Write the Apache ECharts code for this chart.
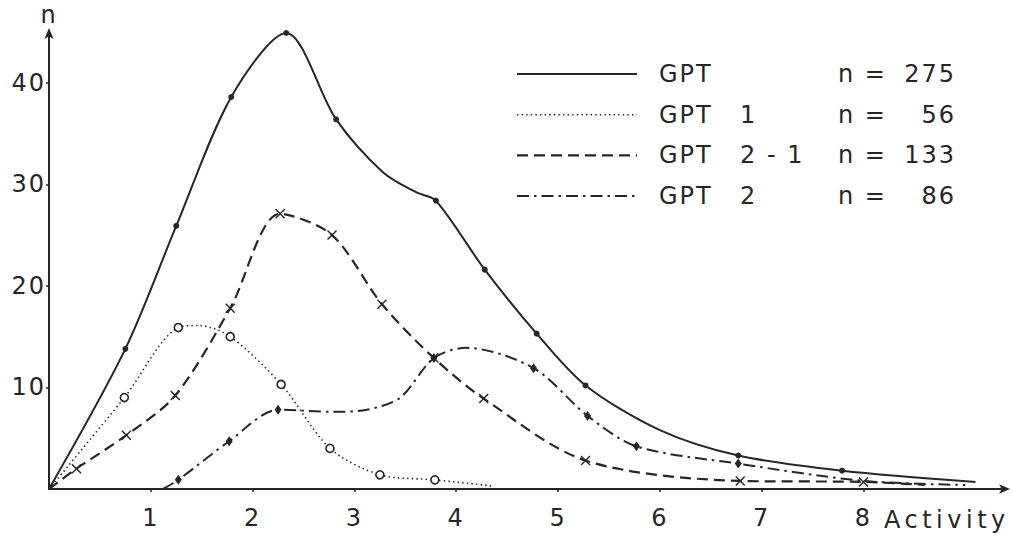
<!DOCTYPE html>
<html>
<head>
<meta charset="utf-8">
<script src="https://cdn.jsdelivr.net/npm/echarts@6/dist/echarts.min.js"></script>
<style>
  html, body { margin: 0; padding: 0; background: #ffffff; }
  #chart { width: 1012px; height: 541px; }
  #chart svg text { letter-spacing: 2px; }
  #chart svg text[style*="Verdana"], #chart svg text[font-family*="Verdana"] { letter-spacing: 4.5px; }
</style>
</head>
<body>
<div id="chart"></div>
<script>
// Axis ticks
const xTicks = [1, 2, 3, 4, 5, 6, 7, 8];
const yTicks = [10, 20, 30, 40];

// Series labels and group sizes
const seriesNames = ['GPT', 'GPT 1', 'GPT 2 - 1', 'GPT 2'];
const groupSizes = [275, 56, 133, 86];

const gptMarked = [[0.75, 13.8], [1.25, 25.9], [1.79, 38.6], [2.33, 44.9], [2.82, 36.4], [3.80, 28.4],
                   [4.28, 21.6], [4.79, 15.3], [5.27, 10.2], [6.77, 3.3], [7.79, 1.8]];
const gptTrace = [[0, 0], [3.28, 31.2], [3.61, 29.2], [6.0, 5.8], [9.1, 0.7]];

// GPT 1: circle markers
const gpt1Marked = [[0.74, 9.0], [1.27, 15.9], [1.78, 15.0], [2.28, 10.3], [2.76, 4.0], [3.25, 1.4], [3.79, 0.9]];
const gpt1Trace = [[0, 0], [1.47, 16.1], [4.35, 0.3]];

// GPT 2 - 1: cross markers
const gpt21Marked = [[0.27, 2.0], [0.76, 5.3], [1.24, 9.2], [1.78, 17.8], [2.27, 27.1], [2.78, 25.0],
                     [3.27, 18.2], [3.78, 12.9], [4.27, 8.9], [5.27, 2.8], [6.79, 0.8], [8.0, 0.7]];
const gpt21Trace = [[0, 0], [8.6, 0.4]];

// GPT 2: diamond markers
const gpt2Marked = [[1.27, 0.9], [1.77, 4.7], [2.25, 7.8], [3.78, 12.9], [4.76, 11.9], [5.29, 7.2],
                    [5.77, 4.2], [6.77, 2.5]];
const gpt2Trace = [[1.12, 0], [2.79, 7.6], [3.12, 7.8], [3.45, 9.0], [4.1, 13.9], [8.0, 0.8], [9.0, 0.4]];

const INK = '#262626';
const FONT = 'DejaVu Sans';

// merge marked and unmarked points into one x-sorted polyline
function buildData(marked, trace) {
  const pts = marked.map(p => ({ value: p, marked: true }))
    .concat(trace.map(p => ({ value: p, marked: false })))
    .sort((a, b) => a.value[0] - b.value[0]);
  return pts.map(p => p.marked ? { value: p.value } : { value: p.value, symbol: 'none' });
}

const crossPath = 'path://M0,1L1,0L5,4L9,0L10,1L6,5L10,9L9,10L5,6L1,10L0,9L4,5Z';

const lineDefs = [
  { marked: gptMarked, trace: gptTrace, dash: 'solid', width: 2,
    symbol: 'circle', size: 6, item: { color: INK } },
  { marked: gpt1Marked, trace: gpt1Trace, dash: [1.4, 3.2], width: 1.6,
    symbol: 'circle', size: 8, item: { color: '#ffffff', borderColor: INK, borderWidth: 1.6 } },
  { marked: gpt21Marked, trace: gpt21Trace, dash: [11, 6], width: 2.2,
    symbol: crossPath, size: 10, item: { color: INK } },
  { marked: gpt2Marked, trace: gpt2Trace, dash: [12, 5, 2.5, 5], width: 2,
    symbol: 'diamond', size: [7, 10], item: { color: INK } }
];

const series = lineDefs.map((d, i) => ({
  name: seriesNames[i],
  type: 'line',
  smooth: 0.3,
  data: buildData(d.marked, d.trace),
  symbol: d.symbol,
  symbolSize: d.size,
  itemStyle: d.item,
  lineStyle: { color: INK, width: d.width, type: d.dash, cap: 'butt' },
  z: 3 + i,
  animation: false
}));

// legend block: line sample, name, and group size in columns
const legendTop = 74, legendStep = 40.7;
const legendGraphics = [];
seriesNames.forEach((name, i) => {
  const y = legendTop + i * legendStep;
  const d = lineDefs[i];
  const parts = name.split(' ');
  const head = parts[0];
  const tail = parts.slice(1).join(' ');
  legendGraphics.push({
    type: 'line',
    shape: { x1: 517, y1: y, x2: 637, y2: y },
    style: { stroke: INK, lineWidth: d.width, lineDash: d.dash === 'solid' ? null : d.dash }
  });
  const textStyle = (text, x, align) => ({
    type: 'text', x: x, y: y,
    style: { text: text, fill: INK, font: '24px ' + FONT, textAlign: align, textVerticalAlign: 'middle' }
  });
  legendGraphics.push(textStyle(head, 659, 'left'));
  if (tail) legendGraphics.push(textStyle(tail, 740, 'left'));
  legendGraphics.push(textStyle('n =', 838, 'left'));
  legendGraphics.push(textStyle(String(groupSizes[i]), 956, 'right'));
});

// axis title to the right of the last tick label
legendGraphics.push({
  type: 'text', x: 884, y: 520,
  style: { text: 'Activity', fill: INK, font: "24px 'DejaVu Sans', Verdana", textAlign: 'left', textVerticalAlign: 'middle' }
});

const chart = echarts.init(document.getElementById('chart'), null, { renderer: 'svg' });
chart.setOption({
  backgroundColor: '#ffffff',
  animation: false,
  grid: { left: 49, right: 6, top: 32, bottom: 52, containLabel: false },
  xAxis: {
    type: 'value', min: 0, max: 9.4,
    axisLine: { show: true, symbol: ['none', 'arrow'], symbolSize: [7, 11], symbolOffset: [0, 4],
                lineStyle: { color: INK, width: 2 } },
    axisTick: { show: true, length: 3, customValues: xTicks, lineStyle: { color: INK, width: 1.5 } },
    axisLabel: { customValues: xTicks, margin: 17, color: INK, fontSize: 24, fontFamily: FONT },
    splitLine: { show: false }
  },
  yAxis: {
    type: 'value', min: 0, max: 45,
    name: 'n', nameLocation: 'end', nameGap: 5,
    nameTextStyle: { color: INK, fontSize: 24, fontFamily: FONT },
    axisLine: { show: true, symbol: ['none', 'arrow'], symbolSize: [7, 11], symbolOffset: [0, 4],
                lineStyle: { color: INK, width: 2 } },
    axisTick: { show: true, length: 3, customValues: yTicks, lineStyle: { color: INK, width: 1.5 } },
    axisLabel: { customValues: yTicks, margin: 3, color: INK, fontSize: 24, fontFamily: FONT },
    splitLine: { show: false }
  },
  series: series,
  graphic: legendGraphics
});
</script>
</body>
</html>
